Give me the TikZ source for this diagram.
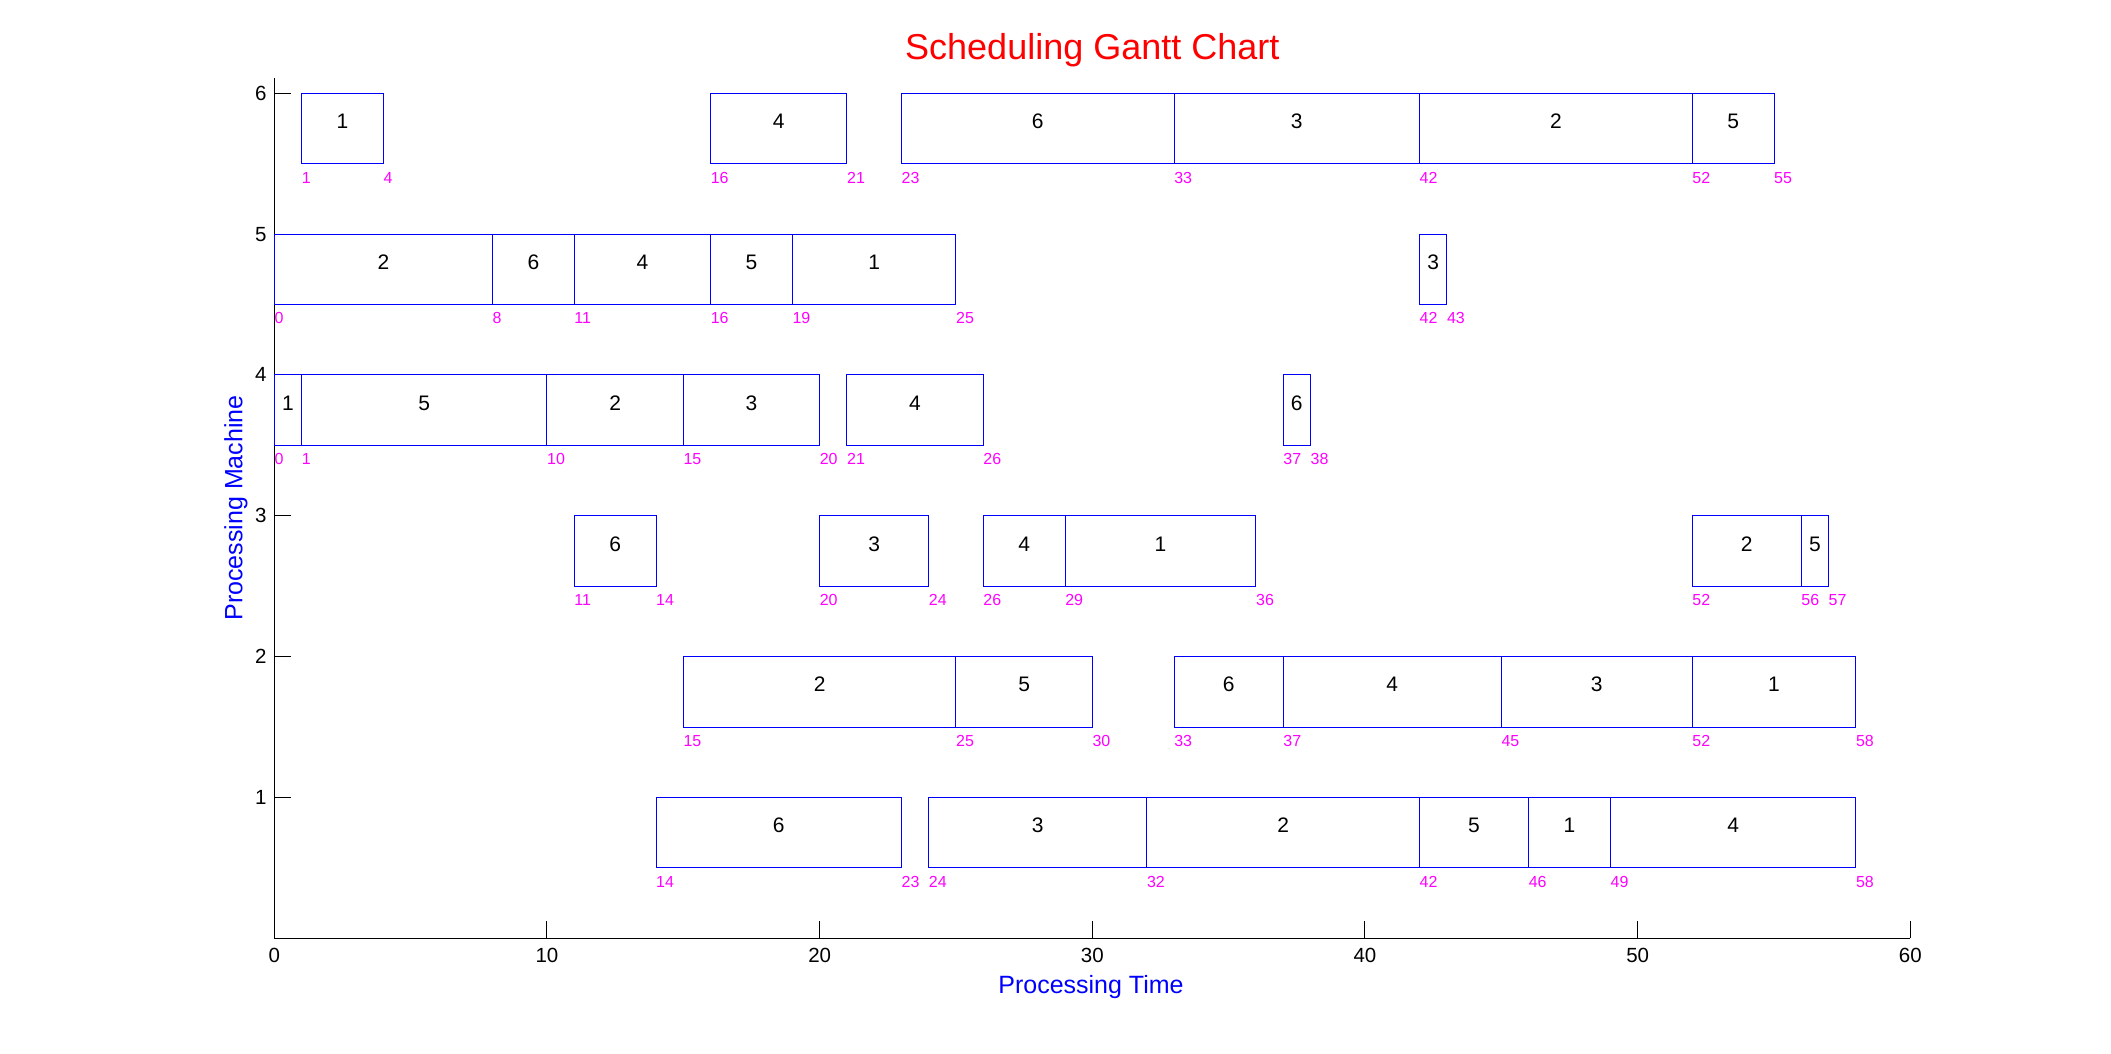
\documentclass[tikz,border=0pt]{standalone}
\usepackage{fontspec}
\setmainfont{Liberation Sans}
\definecolor{mblue}{RGB}{0,0,255}
\definecolor{mmag}{RGB}{255,0,255}
\definecolor{mred}{RGB}{255,0,0}
\tikzset{
  axisline/.style={draw=black, line width=1pt},
  opbox/.style={draw=mblue, line width=1pt},
  oplabel/.style={anchor=base, inner sep=0pt, text=black, font=\fontsize{21}{21}\selectfont},
  timelabel/.style={anchor=base west, inner sep=0pt, text=mmag, font=\fontsize{16}{16}\selectfont},
  ticklabel/.style={inner sep=0pt, text=black, font=\fontsize{20.5}{20.5}\selectfont},
  axlabel/.style={inner sep=0pt, text=mblue, font=\fontsize{25}{25}\selectfont},
  titlelabel/.style={inner sep=0pt, text=mred, font=\fontsize{36}{36}\selectfont}
}
\begin{document}
\begin{tikzpicture}[x=1pt,y=1pt]
\useasboundingbox (0,0) rectangle (2111,1054);
\begin{scope}[shift={(274.3pt,115.7pt)}, x=27.267pt, y=140.83pt]
  % axes
  \coordinate (ytop) at (0,6.109);
  \coordinate (orig) at (0,0);
  \coordinate (xend) at (60,0);
  \draw[axisline] (ytop) -- (orig) -- (xend);
  \foreach \t in {0,10,...,60}{
    \coordinate (xt\t) at (\t,0);
    \draw[axisline] (xt\t) -- ++(0,17pt);
    \node[ticklabel, anchor=base] (xl\t) at ([yshift=-24pt]xt\t) {\t};
  }
  \foreach \m in {1,...,6}{
    \coordinate (yt\m) at (0,\m);
    \draw[axisline] (yt\m) -- ++(16.4pt,0);
    \node[ticklabel, anchor=base east] (yl\m) at ([xshift=-7.5pt,yshift=-6.9pt]yt\m) {\m};
  }
  % operations
  \foreach \m/\s/\e/\l in {
    6/1/4/1, 6/16/21/4, 6/23/33/6, 6/33/42/3, 6/42/52/2, 6/52/55/5,
    5/0/8/2, 5/8/11/6, 5/11/16/4, 5/16/19/5, 5/19/25/1, 5/42/43/3,
    4/0/1/1, 4/1/10/5, 4/10/15/2, 4/15/20/3, 4/21/26/4, 4/37/38/6,
    3/11/14/6, 3/20/24/3, 3/26/29/4, 3/29/36/1, 3/52/56/2, 3/56/57/5,
    2/15/25/2, 2/25/30/5, 2/33/37/6, 2/37/45/4, 2/45/52/3, 2/52/58/1,
    1/14/23/6, 1/24/32/3, 1/32/42/2, 1/42/46/5, 1/46/49/1, 1/49/58/4}{
    \coordinate (a\m-\s) at (\s,\m-0.5);
    \coordinate (b\m-\s) at (\e,\m);
    \draw[opbox] (a\m-\s) rectangle (b\m-\s);
    \node[oplabel] (op\m-\s) at ({(\s+\e)/2},{\m-0.25}) {\l};
  }
  % time labels
  \foreach \m/\t in {
    6/1, 6/4, 6/16, 6/21, 6/23, 6/33, 6/42, 6/52, 6/55,
    5/0, 5/8, 5/11, 5/16, 5/19, 5/25, 5/42, 5/43,
    4/0, 4/1, 4/10, 4/15, 4/20, 4/21, 4/26, 4/37, 4/38,
    3/11, 3/14, 3/20, 3/24, 3/26, 3/29, 3/36, 3/52, 3/56, 3/57,
    2/15, 2/25, 2/30, 2/33, 2/37, 2/45, 2/52, 2/58,
    1/14, 1/23, 1/24, 1/32, 1/42, 1/46, 1/49, 1/58}{
    \node[timelabel] (tm\m-\t) at (\t,{\m-0.638}) {\t};
  }
\end{scope}
\node[titlelabel, anchor=base] (title) at (1092.3,994.7) {Scheduling Gantt Chart};
\node[axlabel, anchor=base] (xlab) at (1091,60.7) {Processing Time};
\node[axlabel, anchor=base, rotate=90] (ylab) at (242.3,546) {Processing Machine};
\end{tikzpicture}
\end{document}
